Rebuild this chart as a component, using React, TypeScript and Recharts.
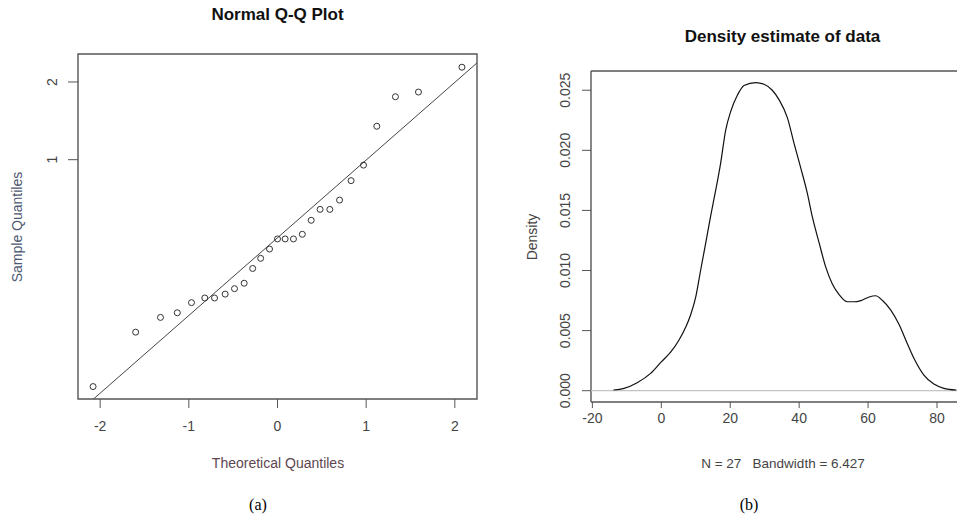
import {
  ScatterChart,
  Scatter,
  LineChart,
  Line,
  XAxis,
  YAxis,
  ReferenceLine,
  ReferenceArea,
} from 'recharts';

// (a) Normal Q-Q plot, 27 observations
const theoretical = [
  -2.08, -1.6, -1.32, -1.13, -0.97, -0.82, -0.71, -0.59, -0.485, -0.376, -0.28,
  -0.19, -0.09, 0, 0.086, 0.18, 0.28, 0.38, 0.48, 0.59, 0.7, 0.83, 0.97, 1.12,
  1.33, 1.59, 2.08,
];
const sample = [
  -1.92, -1.22, -1.03, -0.97, -0.84, -0.78, -0.78, -0.73, -0.66, -0.59, -0.4,
  -0.27, -0.15, -0.02, -0.02, -0.02, 0.04, 0.22, 0.36, 0.36, 0.48, 0.73, 0.93,
  1.43, 1.81, 1.87, 2.19,
];
const qqSlope = 1.0;
const qqIntercept = -0.005;
const qqXTicks = [-2, -1, 0, 1, 2];
const qqYTicks = [1, 2];

// (b) kernel density estimate
const densityX = [
  -13.9, -10.8, -7.0, -3.1, 0, 2.7, 5.1, 7.1, 8.5, 10.0, 11.4, 12.9, 14.3, 15.8,
  17.2, 18.7, 20.1, 22.1, 24.0, 27.4, 29.8, 32.2, 34.2, 36.6, 38.5, 40.4, 42.4,
  43.8, 45.8, 47.7, 49.6, 51.6, 54.0, 55.9, 57.9, 60.3, 62.2, 64.2, 66.6, 69.0,
  71.4, 73.3, 76.2, 79.1, 82.0, 85.6,
];
const densityY = [
  0.00006, 0.0002, 0.00067, 0.00144, 0.0024, 0.0032, 0.0042, 0.0053, 0.0063,
  0.0078, 0.01, 0.0123, 0.0145, 0.0167, 0.0189, 0.0217, 0.0232, 0.0246, 0.0254,
  0.02563, 0.0255, 0.025, 0.0242, 0.0227, 0.0206, 0.0186, 0.0164, 0.0145,
  0.0123, 0.0103, 0.0089, 0.008, 0.0074, 0.0074, 0.0075, 0.0078, 0.0079,
  0.0075, 0.0067, 0.0055, 0.0039, 0.0027, 0.0013, 0.00055, 0.0002, 0.00006,
];
const densityXTicks = [-20, 0, 20, 40, 60, 80];
const densityYTicks = [0, 0.005, 0.01, 0.015, 0.02, 0.025];

const FONT = '"Liberation Sans", Arial, sans-serif';
const SERIF = '"Liberation Serif", "Times New Roman", serif';
const QQ_X_DOMAIN: [number, number] = [-2.25, 2.25];
const QQ_Y_DOMAIN: [number, number] = [-2.08, 2.36];
const D_X_DOMAIN: [number, number] = [-20.4, 91.9];
const D_Y_DOMAIN: [number, number] = [-0.00094, 0.0266];

// clip y = a + b*x to the plotting box (b > 0)
const clipLine = (a: number, b: number, xd: number[], yd: number[]) => {
  const xs = Math.max(xd[0], (yd[0] - a) / b);
  const xe = Math.min(xd[1], (yd[1] - a) / b);
  return [
    { x: xs, y: a + b * xs },
    { x: xe, y: a + b * xe },
  ];
};

const RotatedTick = (props: any) => {
  const { x, y, payload, fmt } = props;
  return (
    <text
      x={x}
      y={y}
      transform={`rotate(-90 ${x} ${y})`}
      textAnchor="middle"
      dominantBaseline="central"
      fontSize={14}
      fontFamily={FONT}
      fill="#444"
    >
      {fmt ? fmt(payload.value) : payload.value}
    </text>
  );
};

const OpenCircle = (props: any) => (
  <circle cx={props.cx} cy={props.cy} r={3} fill="none" stroke="#333" strokeWidth={1} />
);

const Label = ({
  x,
  y,
  text,
  rotate,
  size = 14,
  bold,
  color = '#333',
  family = FONT,
}: any) => (
  <div
    style={{
      position: 'absolute',
      left: x,
      top: y,
      transform: `translate(-50%, -50%)${rotate ? ' rotate(-90deg)' : ''}`,
      fontSize: size,
      fontWeight: bold ? 'bold' : 'normal',
      fontFamily: family,
      color,
      whiteSpace: 'pre',
      lineHeight: 1,
    }}
  >
    {text}
  </div>
);

export default function App() {
  const qqData = theoretical.map((x, i) => ({ x, y: sample[i] }));
  const qqLine = clipLine(qqIntercept, qqSlope, QQ_X_DOMAIN, QQ_Y_DOMAIN);
  const densityData = densityX.map((x, i) => ({ x, y: densityY[i] }));
  const boxStroke = { stroke: '#555', strokeWidth: 1.4, ifOverflow: 'visible' as const };

  return (
    <div
      style={{
        position: 'relative',
        width: 965,
        height: 530,
        margin: -8,
        overflow: 'hidden',
        background: '#fff',
        fontFamily: FONT,
      }}
    >
      <div style={{ position: 'absolute', left: 0, top: 0 }}>
        <ScatterChart
          width={490}
          height={450}
          margin={{ top: 54, right: 13, bottom: 21, left: 0 }}
        >
          <XAxis
            type="number"
            dataKey="x"
            domain={QQ_X_DOMAIN}
            ticks={qqXTicks}
            allowDataOverflow
            height={30}
            axisLine={false}
            tickSize={9}
            tickMargin={13.5}
            tickLine={{ stroke: '#555' }}
            tick={{ fontSize: 14, fill: '#444', fontFamily: FONT }}
          />
          <YAxis
            type="number"
            dataKey="y"
            domain={QQ_Y_DOMAIN}
            ticks={qqYTicks}
            allowDataOverflow
            width={78}
            axisLine={false}
            tickSize={10}
            tickMargin={15.5}
            tickLine={{ stroke: '#555' }}
            tick={<RotatedTick />}
          />
          <ReferenceArea
            x1={QQ_X_DOMAIN[0]}
            x2={QQ_X_DOMAIN[1]}
            y1={QQ_Y_DOMAIN[0]}
            y2={QQ_Y_DOMAIN[1]}
            fill="none"
            fillOpacity={0}
            stroke="#555"
            strokeWidth={1.4}
            ifOverflow="visible"
          />
          <ReferenceLine
            segment={qqLine}
            stroke="#444"
            strokeWidth={1}
            ifOverflow="visible"
          />
          <Scatter data={qqData} shape={<OpenCircle />} isAnimationActive={false} />
        </ScatterChart>
      </div>

      <div style={{ position: 'absolute', left: 490, top: 0 }}>
        <LineChart
          width={500}
          height={450}
          data={densityData}
          margin={{ top: 71, right: 12, bottom: 18, left: 0 }}
        >
          <XAxis
            type="number"
            dataKey="x"
            domain={D_X_DOMAIN}
            ticks={densityXTicks}
            allowDataOverflow
            height={30}
            axisLine={false}
            tickSize={6}
            tickMargin={5.5}
            tickLine={{ stroke: '#555' }}
            tick={{ fontSize: 14, fill: '#444', fontFamily: FONT }}
          />
          <YAxis
            type="number"
            domain={D_Y_DOMAIN}
            ticks={densityYTicks}
            allowDataOverflow
            width={101}
            axisLine={false}
            tickSize={9}
            tickMargin={17}
            tickLine={{ stroke: '#555' }}
            tick={<RotatedTick fmt={(v: number) => v.toFixed(3)} />}
          />
          {/* plot frame: its right side lies outside the cropped figure */}
          <ReferenceLine y={D_Y_DOMAIN[1]} {...boxStroke} />
          <ReferenceLine y={D_Y_DOMAIN[0]} {...boxStroke} />
          <ReferenceLine x={D_X_DOMAIN[0]} {...boxStroke} />
          <ReferenceLine y={0} stroke="#c4c4c4" strokeWidth={1.3} />
          <Line
            type="monotone"
            dataKey="y"
            stroke="#111"
            strokeWidth={1.2}
            dot={false}
            isAnimationActive={false}
          />
        </LineChart>
      </div>

      <Label x={277.5} y={14} text="Normal Q-Q Plot" size={17} bold color="#111" />
      <Label x={16.5} y={227} text="Sample Quantiles" rotate color="#4e5870" />
      <Label x={278} y={463} text="Theoretical Quantiles" color="#5e4650" />

      <Label x={782.5} y={36} text="Density estimate of data" size={17} bold color="#111" />
      <Label x={531.5} y={237} text="Density" rotate color="#444" />
      <Label x={783} y={464} text="N = 27   Bandwidth = 6.427" size={13.5} color="#444" />

      <Label x={258} y={505} text="(a)" size={16} color="#000" family={SERIF} />
      <Label x={749} y={505} text="(b)" size={16} color="#000" family={SERIF} />
    </div>
  );
}
